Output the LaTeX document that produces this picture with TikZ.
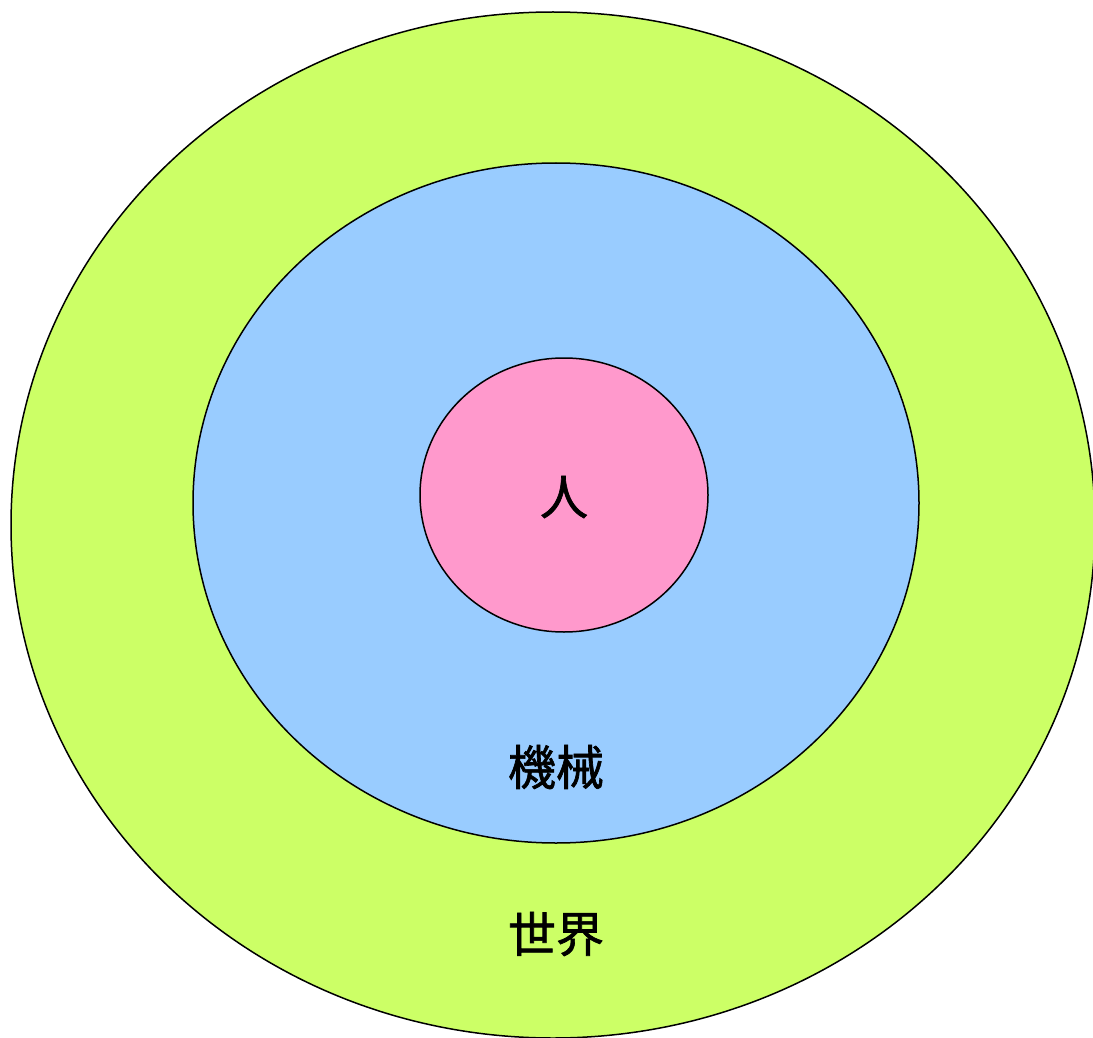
\documentclass[tikz,border=0pt]{standalone}
\usepackage{fontspec}
\newfontfamily\cjk[FakeBold=1.4]{Noto Sans CJK JP}
\definecolor{worldc}{HTML}{CCFF66}
\definecolor{machc}{HTML}{99CCFF}
\definecolor{humanc}{HTML}{FF99CC}
\tikzset{ring/.style={draw=black,line width=1.5pt},
  lbl/.style={font=\cjk\fontsize{48}{52}\selectfont,inner sep=0pt}}
\begin{document}
\begin{tikzpicture}[x=1pt,y=-1pt]
\useasboundingbox (0,0) rectangle (1093,1038);
\clip (0,0) rectangle (1093,1038);
\fill[white] (0,0) rectangle (1093,1038);
\draw[ring,fill=worldc] (553,525) ellipse [x radius=542,y radius=513];
\draw[ring,fill=machc] (556,503) ellipse [x radius=363,y radius=340];
\draw[ring,fill=humanc] (564,495) ellipse [x radius=144,y radius=137];
\node[lbl] (human) at (564,497) {人};
\node[lbl] (machine) at (556,767) {機械};
\node[lbl] (world) at (556,934) {世界};
\end{tikzpicture}
\end{document}
